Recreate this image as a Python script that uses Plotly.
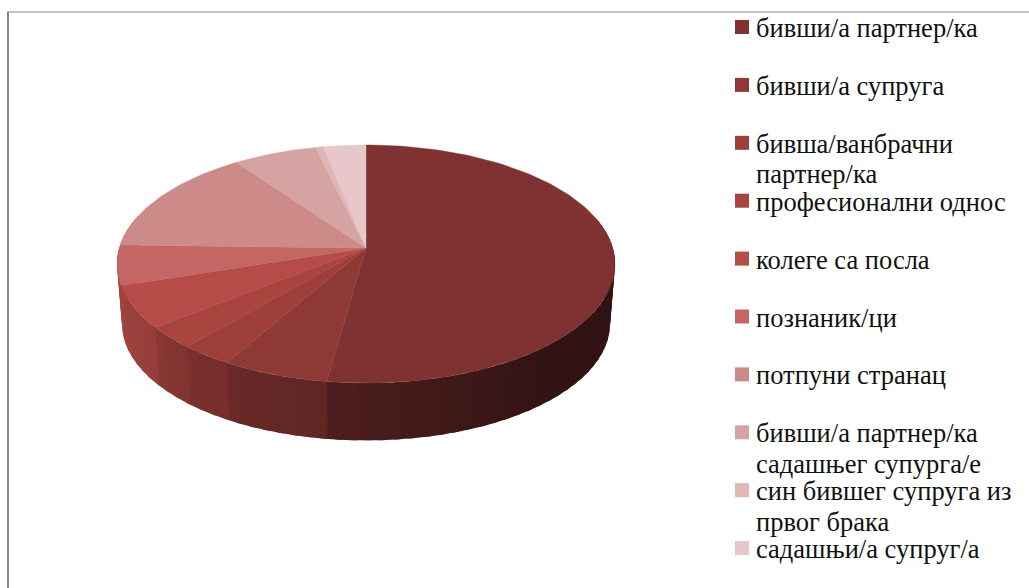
import math
import plotly.graph_objects as go

categories = [["бивши/а партнер/ка"], ["бивши/а супруга"], ["бивша/ванбрачни", "партнер/ка"],
              ["професионални однос"], ["колеге са посла"], ["познаник/ци"], ["потпуни странац"],
              ["бивши/а партнер/ка", "садашњег супурга/е"], ["син бившег супруга из", "првог брака"],
              ["садашњи/а супруг/а"]]
values = [52.2, 6.1, 3.0, 3.0, 5.7, 5.4, 14.7, 6.2, 0.6, 3.1]
top_colors = ["#803232", "#8f3937", "#9f3f3c", "#a9443f", "#b54c47",
              "#c46664", "#cc8a88", "#d5a3a1", "#dfb7b6", "#e6c8ca"]

# pie geometry (pixel-like axes), perspective projection of a circle
CX, APEX_Y, R, S, K = 366, 248, 246.7, 116.9, 0.1345
WALL_SCALE, WALL_APEX_Y = 0.98, 308
LEG_Y0, LEG_PITCH, LEG_LINE = 27, 57.9, 30.5


def rim(theta_deg, scale=1.0, apex=APEX_Y):
    t = math.radians(theta_deg)
    d = 1 + K * math.cos(t)
    return CX + scale * R * math.sin(t) / d, apex - scale * S * math.cos(t) / d


def wall_shade(mid):
    stops = [(60, .38), (140, .40), (187, .60), (188, .66), (210, .74), (221, .76),
             (232, .82), (252, .88), (290, .90)]
    for (a0, s0), (a1, s1) in zip(stops, stops[1:]):
        if a0 <= mid <= a1:
            return s0 + (s1 - s0) * (mid - a0) / (a1 - a0)
    return .90


def scaled(col, f):
    r, g, b = int(col[1:3], 16), int(col[3:5], 16), int(col[5:7], 16)
    return f"rgb({int(r*f)},{int(g*f)},{int(b*f)})"


fig = go.Figure()
total = sum(values)
edges = [0]
for v in values:
    edges.append(edges[-1] + v / total * 360)

# side wall: thin overlapping facets, later facets cover the seam of earlier ones
for i, v in enumerate(values):
    a0, a1 = max(edges[i], 75), min(edges[i + 1], 285)
    if a1 <= a0:
        continue
    n = max(1, int((a1 - a0) / 3))
    for j in range(n):
        s0 = a0 + (a1 - a0) * j / n
        s1 = a0 + (a1 - a0) * (j + 1) / n + 1.5
        arc = [s0 + (s1 - s0) * q / 4 for q in range(5)]
        top = [rim(a) for a in arc]
        bot = [rim(a, WALL_SCALE, WALL_APEX_Y) for a in reversed(arc)]
        pts = top + bot + top[:1]
        col = scaled(top_colors[min(i, 4)], wall_shade((s0 + s1) / 2))
        fig.add_trace(go.Scatter(x=[p[0] for p in pts], y=[p[1] for p in pts], mode="none",
                                 fill="toself", fillcolor=col,
                                 hoverinfo="skip", showlegend=False))

# top face
for i, v in enumerate(values):
    n = max(2, int((edges[i + 1] - edges[i]) / 1.5))
    arc = [edges[i] + (edges[i + 1] - edges[i]) * q / n for q in range(n + 1)]
    pts = [(CX, APEX_Y)] + [rim(a) for a in arc] + [(CX, APEX_Y)]
    fig.add_trace(go.Scatter(x=[p[0] for p in pts], y=[p[1] for p in pts], mode="lines",
                             fill="toself", fillcolor=top_colors[i],
                             line=dict(color=top_colors[i], width=0.4),
                             name=" ".join(categories[i]), hoverinfo="name",
                             showlegend=False))

# legend: swatches and text
annotations = []
sw_y = [LEG_Y0 + LEG_PITCH * i for i in range(len(categories))]
fig.add_trace(go.Scatter(x=[742] * len(categories), y=sw_y, mode="markers", hoverinfo="skip",
                         showlegend=False,
                         marker=dict(symbol="square", size=14, color=top_colors, line=dict(width=0))))
for i, lines in enumerate(categories):
    for k, line in enumerate(lines):
        annotations.append(dict(x=756, y=sw_y[i] + 1 + k * LEG_LINE, text=line, xref="x", yref="y",
                                xanchor="left", yanchor="middle", showarrow=False, xshift=-2,
                                font=dict(family="Liberation Serif", size=26.5, color="#111111")))

fig.update_layout(
    width=1029, height=588, margin=dict(l=0, r=0, t=0, b=0),
    paper_bgcolor="white", plot_bgcolor="white",
    xaxis=dict(range=[0, 1029], visible=False, fixedrange=True),
    yaxis=dict(range=[588, 0], visible=False, fixedrange=True),
    showlegend=False,
    annotations=annotations,
    shapes=[
        dict(type="line", xref="paper", yref="paper", x0=7 / 1029, x1=1, y0=1 - 12 / 588, y1=1 - 12 / 588,
             line=dict(color="#868686", width=1.2)),
        dict(type="line", xref="paper", yref="paper", x0=8 / 1029, x1=8 / 1029, y0=0, y1=1 - 12 / 588,
             line=dict(color="#868686", width=2)),
    ],
)
fig.write_html("out.html", config={"displayModeBar": False},
               post_script="document.body.style.margin='0';")
